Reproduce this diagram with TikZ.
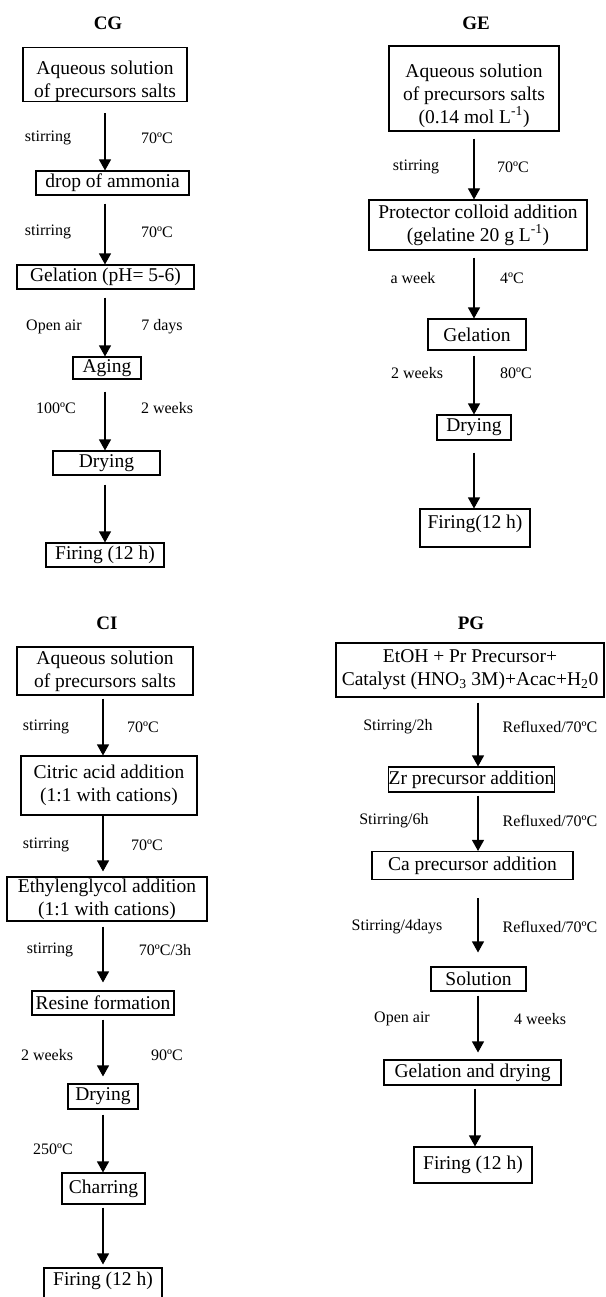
\documentclass[tikz,border=0pt]{standalone}
\usepackage{fontspec}
\setmainfont{Liberation Serif}
\usetikzlibrary{arrows.meta,calc}
\tikzset{
  box/.style={draw, line width=1.1pt, inner sep=0pt, align=center,
    font=\fontsize{19.5}{23}\selectfont},
  lbl/.style={inner sep=0pt, font=\fontsize{16}{19}\selectfont},
  ttl/.style={inner sep=0pt, font=\fontsize{19}{22}\selectfont\bfseries},
  arr/.style={line width=1.1pt, -{Triangle[width=12pt,length=11pt]}}
}
\begin{document}
\begin{tikzpicture}[x=1pt,y=-1pt]
\useasboundingbox[fill=white] (0,0) rectangle (605,1297);
% column x coordinates for arrows
\coordinate (cgx) at (105,0);
\coordinate (gex) at (474,0);
\coordinate (cix) at (103,0);
\coordinate (pgx) at (478,0);
\coordinate (pgxb) at (475,0);

%% ---------------- CG ----------------
\node[ttl] (cg0) at (108,23) {CG};
\node[box, minimum width=164pt, minimum height=47pt] (cg1) at (105,74.5)
  {\rule{0pt}{27pt}Aqueous solution\\of precursors salts};
\node[box, minimum width=153pt, minimum height=24pt] (cg2) at (112.5,183) {drop of ammonia};
\node[box, minimum width=177pt, minimum height=24pt] (cg3) at (105.5,277) {Gelation (pH= 5-6)};
\node[box, minimum width=68pt, minimum height=22pt] (cg4) at (107,368) {Aging};
\node[box, minimum width=107pt, minimum height=24pt] (cg5) at (106.5,463) {Drying};
\node[box, minimum width=118pt, minimum height=24pt] (cg6) at (105,555) {Firing (12 h)};

\draw[arr, shorten <=11pt] (cg1.south -| cgx) -- (cg2.north -| cgx);
\draw[arr, shorten <=8pt] (cg2.south -| cgx) -- (cg3.north -| cgx);
\draw[arr, shorten <=8pt] (cg3.south -| cgx) -- (cg4.north -| cgx);
\draw[arr, shorten <=12pt] (cg4.south -| cgx) -- (cg5.north -| cgx);
\draw[arr, shorten <=9pt] (cg5.south -| cgx) -- (cg6.north -| cgx);

\node[lbl] (cgl1a) at (48,138) {stirring};
\node[lbl] (cgl1b) at (157,138) {70ºC};
\node[lbl] (cgl2a) at (48,232) {stirring};
\node[lbl] (cgl2b) at (157,232) {70ºC};
\node[lbl] (cgl3a) at (54,327) {Open air};
\node[lbl] (cgl3b) at (162,327) {7 days};
\node[lbl] (cgl4a) at (56,408) {100ºC};
\node[lbl] (cgl4b) at (167,408) {2 weeks};

%% ---------------- GE ----------------
\node[ttl] (ge0) at (476,23) {GE};
\node[box, minimum width=170pt, minimum height=85pt] (ge1) at (474,88.5)
  {\rule{0pt}{28pt}Aqueous solution\\of precursors salts\\(0.14 mol L\textsuperscript{-1})};
\node[box, minimum width=218pt, minimum height=50pt] (ge2) at (478,225)
  {Protector colloid addition\\(gelatine 20 g L\textsuperscript{-1})};
\node[box, minimum width=98pt, minimum height=31pt] (ge3) at (477,334.5) {Gelation};
\node[box, minimum width=74pt, minimum height=25pt] (ge4) at (474,427.5) {Drying};
\node[box, minimum width=110pt, minimum height=38pt, text height=19pt, text depth=19pt] (ge5) at (475,528) {Firing(12 h)};

\draw[arr, shorten <=7pt] (ge1.south -| gex) -- (ge2.north -| gex);
\draw[arr, shorten <=7pt] (ge2.south -| gex) -- (ge3.north -| gex);
\draw[arr, shorten <=5pt] (ge3.south -| gex) -- (ge4.north -| gex);
\draw[arr, shorten <=12pt] (ge4.south -| gex) -- (ge5.north -| gex);

\node[lbl] (gel1a) at (416,167) {stirring};
\node[lbl] (gel1b) at (513,167) {70ºC};
\node[lbl] (gel2a) at (413,278) {a week};
\node[lbl] (gel2b) at (512,278) {4ºC};
\node[lbl] (gel3a) at (417,373) {2 weeks};
\node[lbl] (gel3b) at (516,373) {80ºC};

%% ---------------- CI ----------------
\node[ttl] (ci0) at (107,623) {CI};
\node[box, minimum width=176pt, minimum height=48pt] (ci1) at (105,671)
  {Aqueous solution\\of precursors salts};
\node[box, minimum width=176pt, minimum height=59pt] (ci2) at (109,785.5)
  {Citric acid addition\\(1:1 with cations)};
\node[box, minimum width=200pt, minimum height=44pt] (ci3) at (107,899)
  {Ethylenglycol addition\\(1:1 with cations)};
\node[box, minimum width=142pt, minimum height=24pt] (ci4) at (103,1003) {Resine formation};
\node[box, minimum width=70pt, minimum height=25pt] (ci5) at (103,1096.5) {Drying};
\node[box, minimum width=83pt, minimum height=31pt] (ci6) at (103.5,1188.5) {Charring};
\node[box, minimum width=118pt, minimum height=40pt, text height=17pt, text depth=23pt] (ci7) at (103,1288) {Firing (12 h)};

\draw[arr, shorten <=3pt] (ci1.south -| cix) -- (ci2.north -| cix);
\draw[arr, shorten >=5pt] (ci2.south -| cix) -- (ci3.north -| cix);
\draw[arr, shorten <=5pt, shorten >=8pt] (ci3.south -| cix) -- (ci4.north -| cix);
\draw[arr, shorten <=4pt, shorten >=7pt] (ci4.south -| cix) -- (ci5.north -| cix);
\draw[arr, shorten <=5pt] (ci5.south -| cix) -- (ci6.north -| cix);
\draw[arr, shorten <=3pt, shorten >=3pt] (ci6.south -| cix) -- (ci7.north -| cix);

\node[lbl] (cil1a) at (46,727) {stirring};
\node[lbl] (cil1b) at (143,727) {70ºC};
\node[lbl] (cil2a) at (46,845) {stirring};
\node[lbl] (cil2b) at (147,845) {70ºC};
\node[lbl] (cil3a) at (50,950) {stirring};
\node[lbl] (cil3b) at (165,950) {70ºC/3h};
\node[lbl] (cil4a) at (47,1055) {2 weeks};
\node[lbl] (cil4b) at (167,1055) {90ºC};
\node[lbl] (cil5a) at (53,1149) {250ºC};

%% ---------------- PG ----------------
\node[ttl] (pg0) at (471,623) {PG};
\node[box, minimum width=268pt, minimum height=54pt] (pg1) at (470,670)
  {EtOH + Pr Precursor+\\Catalyst (HNO\textsubscript{3} 3M)+Acac+H\textsubscript{2}0};
\node[box, minimum width=137pt, minimum height=25pt] (pg2) at (471.5,779.5) {Zr precursor addition};
\node[box, minimum width=201pt, minimum height=28pt] (pg3) at (472.5,865.5) {Ca precursor addition};
\node[box, minimum width=95pt, minimum height=24pt] (pg4) at (478.5,979) {Solution};
\node[box, minimum width=177pt, minimum height=25pt] (pg5) at (472.5,1072.5) {Gelation and drying};
\node[box, minimum width=118pt, minimum height=36pt, text height=22pt, text depth=14pt] (pg6) at (473,1165) {Firing (12 h)};

\draw[arr, shorten <=5pt] (pg1.south -| pgx) -- (pg2.north -| pgx);
\draw[arr, shorten <=3pt] (pg2.south -| pgx) -- (pg3.north -| pgx);
\draw[arr, shorten <=18pt, shorten >=14pt] (pg3.south -| pgx) -- (pg4.north -| pgx);
\draw[arr, shorten <=4pt, shorten >=7pt] (pg4.south -| pgx) -- (pg5.north -| pgx);
\draw[arr, shorten <=3pt] (pg5.south -| pgxb) -- (pg6.north -| pgxb);

\node[lbl] (pgl1a) at (398,727) {Stirring/2h};
\node[lbl] (pgl1b) at (550,727) {Refluxed/70ºC};
\node[lbl] (pgl2a) at (394,821) {Stirring/6h};
\node[lbl] (pgl2b) at (550,821) {Refluxed/70ºC};
\node[lbl] (pgl3a) at (397,927) {Stirring/4days};
\node[lbl] (pgl3b) at (550,927) {Refluxed/70ºC};
\node[lbl] (pgl4a) at (402,1019) {Open air};
\node[lbl] (pgl4b) at (540,1019) {4 weeks};
\end{tikzpicture}
\end{document}
